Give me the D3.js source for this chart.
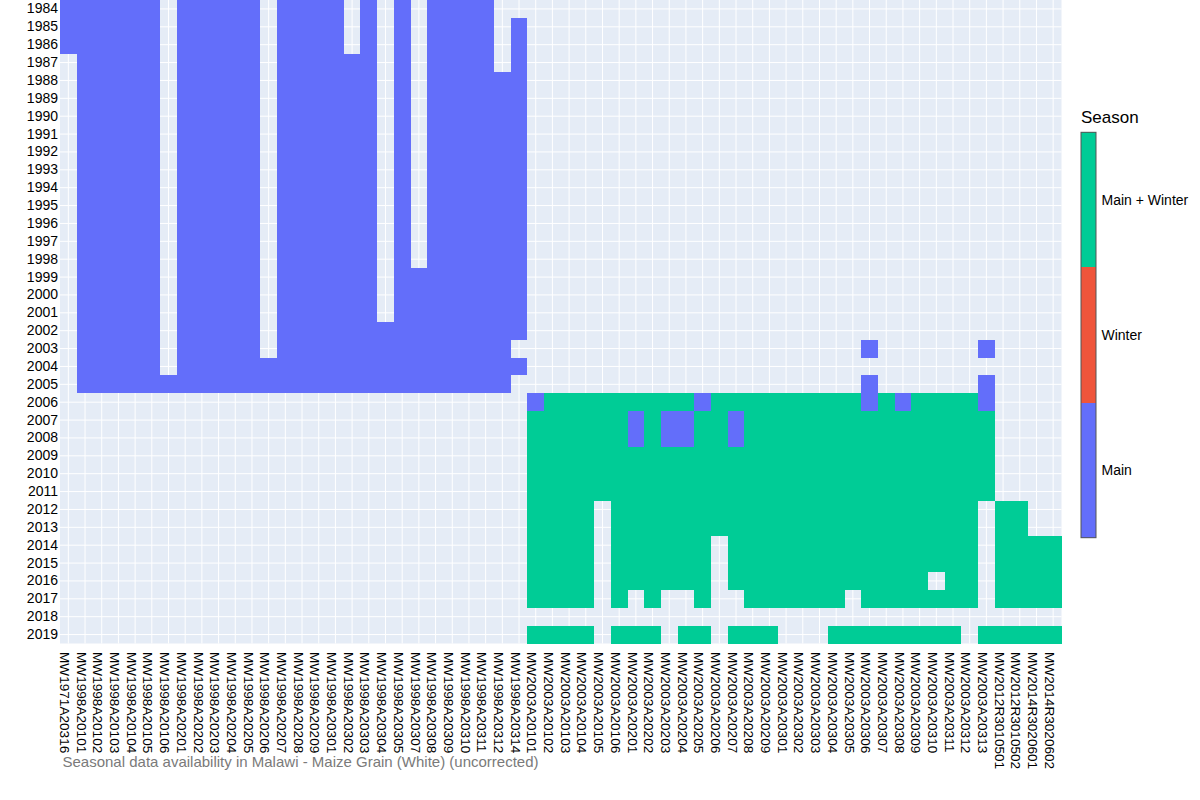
<!DOCTYPE html>
<html><head><meta charset="utf-8">
<script src="https://cdn.jsdelivr.net/npm/d3@7"></script>
<style>
body{margin:0;background:#fff;}
svg{display:block;font-family:"Liberation Sans",Arial,Helvetica,sans-serif;}
</style>
</head><body>
<svg id="chart" width="1200" height="800"></svg>
<script>
// ---- data ----
const markets = [
  "MW1971A20316",
  "MW1998A20101","MW1998A20102","MW1998A20103","MW1998A20104","MW1998A20105","MW1998A20106",
  "MW1998A20201","MW1998A20202","MW1998A20203","MW1998A20204","MW1998A20205","MW1998A20206","MW1998A20207","MW1998A20208","MW1998A20209",
  "MW1998A20301","MW1998A20302","MW1998A20303","MW1998A20304","MW1998A20305","MW1998A20307","MW1998A20308","MW1998A20309","MW1998A20310","MW1998A20311","MW1998A20312","MW1998A20314",
  "MW2003A20101","MW2003A20102","MW2003A20103","MW2003A20104","MW2003A20105","MW2003A20106",
  "MW2003A20201","MW2003A20202","MW2003A20203","MW2003A20204","MW2003A20205","MW2003A20206","MW2003A20207","MW2003A20208","MW2003A20209",
  "MW2003A20301","MW2003A20302","MW2003A20303","MW2003A20304","MW2003A20305","MW2003A20306","MW2003A20307","MW2003A20308","MW2003A20309","MW2003A20310","MW2003A20311","MW2003A20312","MW2003A20313",
  "MW2012R3010501","MW2012R3010502","MW2014R3020601","MW2014R3020602"
];
const years = [1984,1985,1986,1987,1988,1989,1990,1991,1992,1993,1994,1995,1996,1997,1998,1999,
  2000,2001,2002,2003,2004,2005,2006,2007,2008,2009,2010,2011,2012,2013,2014,2015,2016,2017,2018,2019];
const seasons = ["Main","Winter","Main + Winter"];
const seasonColors = ["#636efa","#EF553B","#00cc96"];
const seasonCodes = {M:"Main", W:"Winter", B:"Main + Winter"};
// one string per market, years 1984..2019 (groups: 1984-89 | 1990-99 | 2000-09 | 2010-19)
// '.' = no data, M = Main, W = Winter, B = Main + Winter
const availability = [
  "MMM... .......... .......... ..........", // MW1971A20316
  "MMMMMM MMMMMMMMMM MMMMMM.... ..........",
  "MMMMMM MMMMMMMMMM MMMMMM.... ..........",
  "MMMMMM MMMMMMMMMM MMMMMM.... ..........",
  "MMMMMM MMMMMMMMMM MMMMMM.... ..........",
  "MMMMMM MMMMMMMMMM MMMMMM.... ..........",
  "...... .......... .....M.... ..........", // 20106
  "MMMMMM MMMMMMMMMM MMMMMM.... ..........",
  "MMMMMM MMMMMMMMMM MMMMMM.... ..........",
  "MMMMMM MMMMMMMMMM MMMMMM.... ..........",
  "MMMMMM MMMMMMMMMM MMMMMM.... ..........",
  "MMMMMM MMMMMMMMMM MMMMMM.... ..........",
  "...... .......... ....MM.... ..........", // 20206
  "MMMMMM MMMMMMMMMM MMMMMM.... ..........",
  "MMMMMM MMMMMMMMMM MMMMMM.... ..........",
  "MMMMMM MMMMMMMMMM MMMMMM.... ..........",
  "MMMMMM MMMMMMMMMM MMMMMM.... ..........", // 20301
  "...MMM MMMMMMMMMM MMMMMM.... ..........", // 20302
  "MMMMMM MMMMMMMMMM MMMMMM.... ..........",
  "...... .......... ..MMMM.... ..........", // 20304
  "MMMMMM MMMMMMMMMM MMMMMM.... ..........",
  "...... .........M MMMMMM.... ..........", // 20307
  "MMMMMM MMMMMMMMMM MMMMMM.... ..........",
  "MMMMMM MMMMMMMMMM MMMMMM.... ..........",
  "MMMMMM MMMMMMMMMM MMMMMM.... ..........",
  "MMMMMM MMMMMMMMMM MMMMMM.... ..........",
  "....MM MMMMMMMMMM MMMMMM.... ..........", // 20312
  ".MMMMM MMMMMMMMMM MMM.M..... ..........", // 20314
  "...... .......... ......MBBB BBBBBBBB.B", // MW2003A20101
  "...... .......... ......BBBB BBBBBBBB.B",
  "...... .......... ......BBBB BBBBBBBB.B",
  "...... .......... ......BBBB BBBBBBBB.B",
  "...... .......... ......BBBB BB........", // 20105
  "...... .......... ......BBBB BBBBBBBB.B",
  "...... .......... ......BMMB BBBBBBB..B", // 20201
  "...... .......... ......BBBB BBBBBBBB.B",
  "...... .......... ......BMMB BBBBBBB...", // 20203
  "...... .......... ......BMMB BBBBBBB..B", // 20204
  "...... .......... ......MBBB BBBBBBBB.B", // 20205
  "...... .......... ......BBBB BBBB......", // 20206
  "...... .......... ......BMMB BBBBBBB..B", // 20207
  "...... .......... ......BBBB BBBBBBBB.B",
  "...... .......... ......BBBB BBBBBBBB.B",
  "...... .......... ......BBBB BBBBBBBB..", // 20301
  "...... .......... ......BBBB BBBBBBBB..",
  "...... .......... ......BBBB BBBBBBBB..",
  "...... .......... ......BBBB BBBBBBBB.B", // 20304
  "...... .......... ......BBBB BBBBBBB..B", // 20305
  "...... .......... ...M.MMBBB BBBBBBBB.B", // 20306
  "...... .......... ......BBBB BBBBBBBB.B",
  "...... .......... ......MBBB BBBBBBBB.B", // 20308
  "...... .......... ......BBBB BBBBBBBB.B",
  "...... .......... ......BBBB BBBBBB.B.B", // 20310
  "...... .......... ......BBBB BBBBBBBB.B",
  "...... .......... ......BBBB BBBBBBBB..", // 20312
  "...... .......... ...M.MMBBB BB.......B", // 20313
  "...... .......... .......... ..BBBBBB.B", // MW2012R3010501
  "...... .......... .......... ..BBBBBB.B",
  "...... .......... .......... ....BBBB.B", // MW2014R3020601
  "...... .......... .......... ....BBBB.B"
];
const titleText = "Seasonal data availability in Malawi - Maize Grain (White) (uncorrected)";

// ---- build cells ----
const cells = [];
markets.forEach((m, i) => {
  const codes = availability[i].replace(/ /g, "");
  years.forEach((yr, j) => {
    const c = codes[j];
    if (c && c !== ".") cells.push({market: m, year: yr, season: seasonCodes[c]});
  });
});

// ---- layout ----
const plot = {left: 60, right: 1061.5, top: 0, bottom: 643.5};
const svg = d3.select("#chart");
const x = d3.scaleBand().domain(markets).range([plot.left, plot.right]).padding(0);
const y = d3.scaleBand().domain(years).range([plot.top, plot.bottom]).padding(0);
const color = d3.scaleOrdinal().domain(seasons).range(seasonColors);

svg.append("rect").attr("x", plot.left).attr("y", plot.top)
  .attr("width", plot.right - plot.left).attr("height", plot.bottom - plot.top)
  .attr("fill", "#E5ECF6");

// grid
const grid = svg.append("g");
grid.selectAll(".vg").data(markets).join("line")
  .attr("x1", d => x(d) + x.bandwidth()/2).attr("x2", d => x(d) + x.bandwidth()/2)
  .attr("y1", plot.top).attr("y2", plot.bottom)
  .attr("stroke", "#fff").attr("stroke-width", 1);
grid.selectAll(".hg").data(years).join("line")
  .attr("y1", d => y(d) + y.bandwidth()/2).attr("y2", d => y(d) + y.bandwidth()/2)
  .attr("x1", plot.left).attr("x2", plot.right)
  .attr("stroke", "#fff").attr("stroke-width", 1);

// heatmap cells
svg.append("g").selectAll("rect").data(cells).join("rect")
  .attr("x", d => x(d.market)).attr("y", d => y(d.year))
  .attr("width", x.bandwidth()).attr("height", y.bandwidth())
  .attr("fill", d => color(d.season))
  .attr("shape-rendering", "crispEdges");

// y axis
const yAxis = svg.append("g").attr("transform", `translate(${plot.left},0)`)
  .call(d3.axisLeft(y).tickSize(0).tickPadding(2));
yAxis.select(".domain").remove();
yAxis.selectAll("text").attr("font-size", 14).attr("fill", "#000")
  .attr("font-family", '"Liberation Sans",Arial,sans-serif');

// x axis
const xAxis = svg.append("g").attr("transform", `translate(0,${plot.bottom})`)
  .call(d3.axisBottom(x).tickSize(0).tickPadding(0));
xAxis.select(".domain").remove();
xAxis.selectAll("text")
  .attr("font-size", 13.6).attr("fill", "#000")
  .attr("font-family", '"Liberation Sans",Arial,sans-serif')
  .attr("text-anchor", "start")
  .attr("x", 0).attr("y", 8.3).attr("dy", null)
  .attr("transform", "translate(0,8.5) rotate(90)");

// title (bottom)
svg.append("text").attr("x", 62.5).attr("y", 767)
  .attr("font-size", 15).attr("fill", "#7a7a7a")
  .text(titleText);

// colorbar
const cb = {x: 1081, w: 15, top: 132.3, bottom: 537.7};
const yBar = d3.scaleBand().domain(seasons.slice().reverse()).range([cb.top, cb.bottom]);
const cbg = svg.append("g");
cbg.selectAll("rect.seg").data(seasons).join("rect")
  .attr("class", "seg")
  .attr("x", cb.x).attr("y", d => yBar(d))
  .attr("width", cb.w).attr("height", yBar.bandwidth())
  .attr("fill", d => color(d))
  .attr("shape-rendering", "crispEdges");
cbg.append("rect").attr("x", cb.x).attr("y", cb.top)
  .attr("width", cb.w).attr("height", cb.bottom - cb.top)
  .attr("fill", "none").attr("stroke", "#555").attr("stroke-width", 1);
cbg.selectAll("text.lab").data(seasons).join("text")
  .attr("class", "lab")
  .attr("x", cb.x + cb.w + 5.5).attr("y", d => yBar(d) + yBar.bandwidth()/2)
  .attr("dy", "0.35em").attr("font-size", 14).attr("fill", "#000")
  .text(d => d);
cbg.append("text").attr("x", cb.x).attr("y", 123)
  .attr("font-size", 17).attr("fill", "#000").text("Season");
</script>
</body></html>
